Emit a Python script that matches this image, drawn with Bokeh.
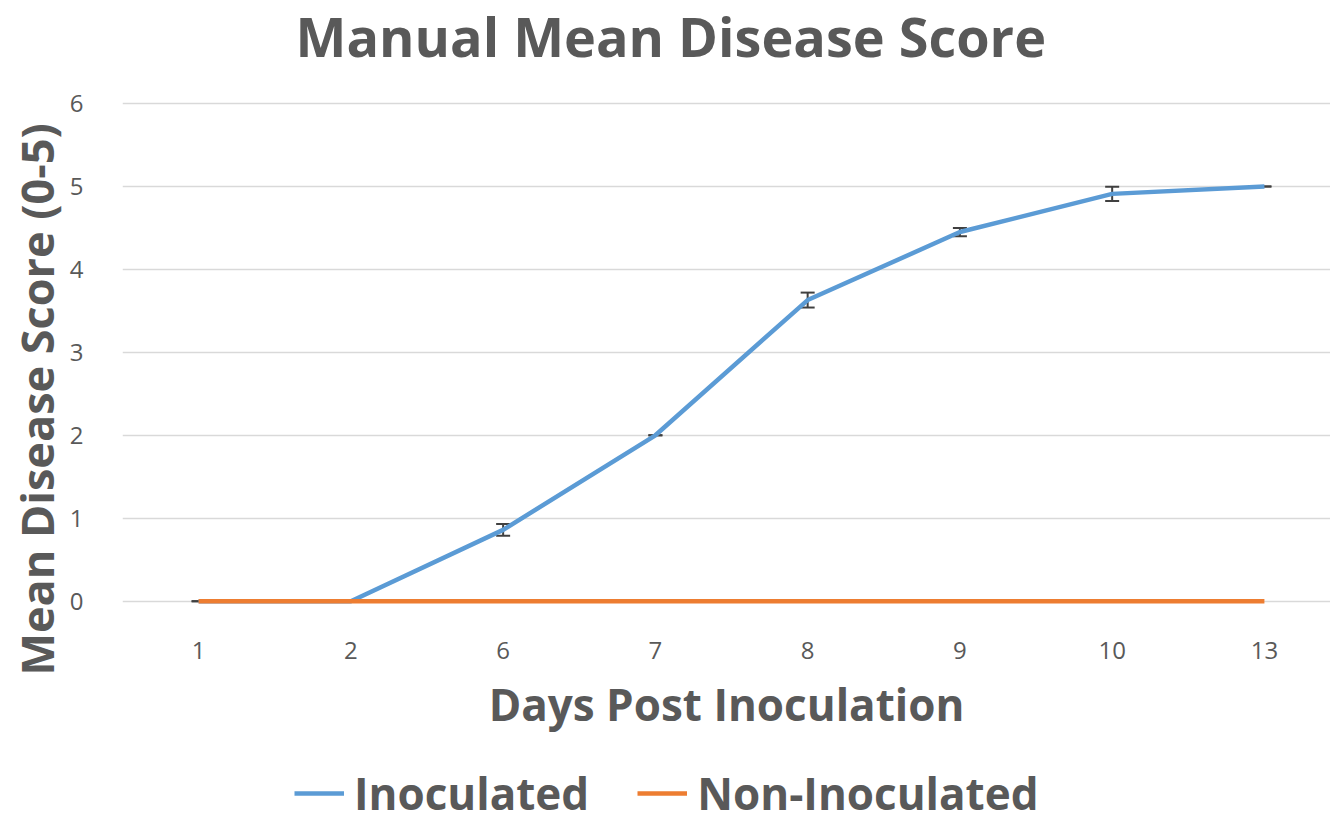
from bokeh.plotting import figure
from bokeh.models import ColumnDataSource, Whisker, Legend, LegendItem, FixedTicker, Title, Label
from bokeh.layouts import column
from bokeh.embed import file_html
from bokeh.resources import INLINE

days = ["1", "2", "6", "7", "8", "9", "10", "13"]
inoculated = [0, 0, 0.86, 2.0, 3.63, 4.45, 4.91, 5.0]
inoc_err = [0, 0, 0.07, 0, 0.09, 0.05, 0.085, 0]
non_inoculated = [0, 0, 0, 0, 0, 0, 0, 0]
series_names = ["Inoculated", "Non-Inoculated"]
series_colors = ["#5B9BD5", "#ED7D31"]
y_ticks = [0, 1, 2, 3, 4, 5, 6]
chart_title = "Manual Mean Disease Score"
x_title = "Days Post Inoculation"
y_title = "Mean Disease Score (0-5)"

GRAY = "#595959"
xs = list(range(len(days)))
W = 1330

# main chart: the frame reaches the top of the canvas so the title can sit inside it
p = figure(width=W, height=750, output_backend="svg", toolbar_location=None,
           x_range=(-0.5, 7.434), y_range=(-0.1, 7.241),
           min_border_left=122, min_border_right=0, min_border_top=0, min_border_bottom=141)

p.add_layout(Label(x=173, y=574, x_units="screen", y_units="screen", text=chart_title,
                   text_font="Open Sans", text_font_style="bold", text_font_size="54px",
                   text_color=GRAY, text_align="left", text_baseline="alphabetic"))

lo = [v - e for v, e in zip(inoculated, inoc_err)]
hi = [v + e for v, e in zip(inoculated, inoc_err)]
src = ColumnDataSource(dict(x=xs, inoc=inoculated, non=non_inoculated, lo=lo, hi=hi))

w = Whisker(base="x", lower="lo", upper="hi", source=src, line_color="#404040", line_width=2)
for h in (w.upper_head, w.lower_head):
    h.size = 14
    h.line_color = "#404040"
    h.line_width = 2
p.add_layout(w)

p.line("x", "inoc", source=src, line_color=series_colors[0], line_width=4.5)
p.line("x", "non", source=src, line_color=series_colors[1], line_width=4.5)

p.xaxis.ticker = FixedTicker(ticks=xs)
p.xaxis.major_label_overrides = {i: d for i, d in enumerate(days)}
p.yaxis.ticker = FixedTicker(ticks=y_ticks)

for ax in (p.xaxis, p.yaxis):
    ax.axis_line_color = None
    ax.major_tick_line_color = None
    ax.minor_tick_line_color = None
    ax.major_tick_out = 0
    ax.major_tick_in = 0
    ax.minor_tick_out = 0
    ax.minor_tick_in = 0
    ax.major_label_text_font = "Open Sans"
    ax.major_label_text_font_size = "24px"
    ax.major_label_text_color = GRAY
    ax.axis_label_text_font = "Open Sans"
    ax.axis_label_text_font_style = "bold"
    ax.axis_label_text_font_size = "44px"
    ax.axis_label_text_color = GRAY

p.xaxis.axis_label = x_title
p.xaxis.major_label_standoff = 32
p.xaxis.axis_label_standoff = 12
p.yaxis.major_label_standoff = 39

ytitle = Title(text=y_title, text_font="Open Sans", text_font_style="bold",
               text_font_size="45px", text_color=GRAY, align="left", offset=-66, standoff=0)
p.add_layout(ytitle, "left")

p.xgrid.grid_line_color = None
p.ygrid.grid_line_color = "#D9D9D9"
p.ygrid.grid_line_width = 1.5
p.outline_line_color = None

# legend strip (its lines use the same data but sit outside the strip's view)
q = figure(width=W, height=73, output_backend="svg", toolbar_location=None,
           x_range=(0, 1), y_range=(100, 101), min_border=0)
q.axis.visible = False
q.grid.visible = False
q.outline_line_color = None
items = []
for name, col, key in zip(series_names, series_colors, ["inoc", "non"]):
    r = q.line("x", key, source=src, line_color=col, line_width=4.5)
    items.append(LegendItem(label=name, renderers=[r]))
legend = Legend(items=items, orientation="horizontal", location=(172, 0),
                label_text_font="Open Sans", label_text_font_style="bold",
                label_text_font_size="44px", label_text_color=GRAY,
                glyph_width=50, glyph_height=30, spacing=48, label_standoff=10,
                border_line_color=None, background_fill_alpha=0, margin=0, padding=0)
q.add_layout(legend, "center")

layout = column(p, q, spacing=0)
open("out.html", "w").write(file_html(layout, INLINE))
